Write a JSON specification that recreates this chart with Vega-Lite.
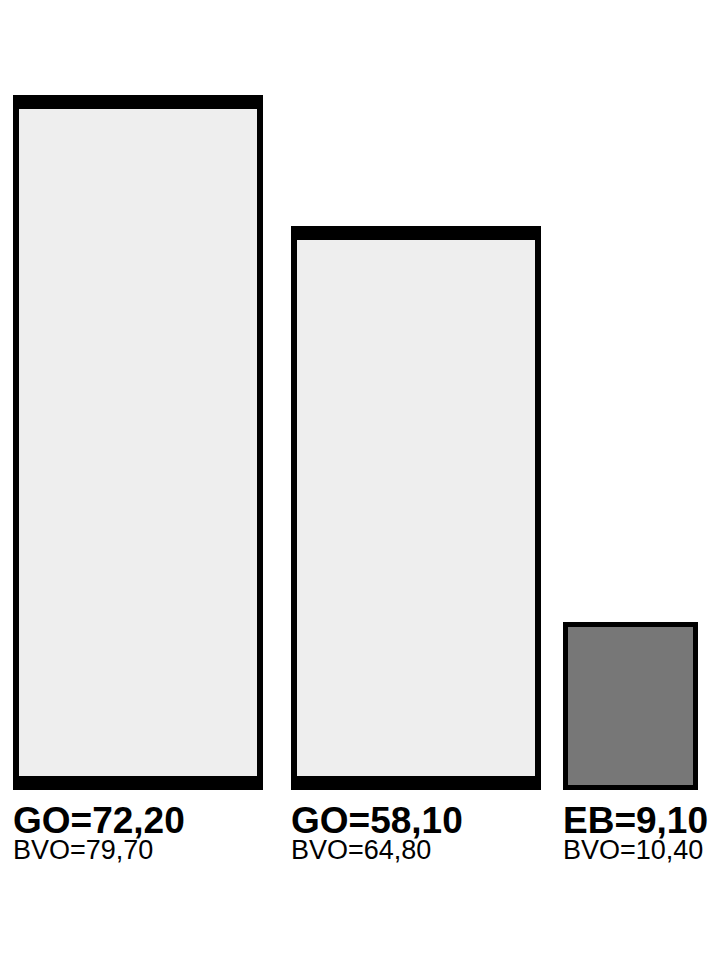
{
  "$schema": "https://vega.github.io/schema/vega-lite/v6.json",
  "autosize": "none",
  "padding": {"left": 0, "top": 0, "right": 0, "bottom": 170},
  "width": 720,
  "height": 790,
  "background": "white",
  "config": {"view": {"stroke": null}},
  "data": {
    "values": [
      {"typ": "GO", "label": "GO=72,20", "bvo": "BVO=79,70", "x0": 0.26, "x1": 5.26, "top": 13.9, "base": 0},
      {"typ": "GO", "label": "GO=58,10", "bvo": "BVO=64,80", "x0": 5.82, "x1": 10.82, "top": 11.28, "base": 0},
      {"typ": "EB", "label": "EB=9,10", "bvo": "BVO=10,40", "x0": 11.26, "x1": 13.96, "top": 3.36, "base": 0}
    ]
  },
  "encoding": {
    "x": {"field": "x0", "type": "quantitative", "scale": {"domain": [0, 14.4], "nice": false, "zero": false}, "axis": null},
    "y": {"field": "top", "type": "quantitative", "scale": {"domain": [0, 15.8], "nice": false, "zero": false}, "axis": null}
  },
  "layer": [
    {
      "mark": {"type": "rect", "color": "#000000", "clip": false},
      "encoding": {
        "x2": {"field": "x1"},
        "y2": {"field": "base"}
      }
    },
    {
      "transform": [{"filter": "datum.typ === 'GO'"}],
      "mark": {"type": "rect", "color": "#eeeeee", "xOffset": 6, "x2Offset": -6, "yOffset": 14, "y2Offset": -14, "clip": false},
      "encoding": {
        "x2": {"field": "x1"},
        "y2": {"field": "base"}
      }
    },
    {
      "transform": [{"filter": "datum.typ === 'EB'"}],
      "mark": {"type": "rect", "color": "#777777", "xOffset": 5, "x2Offset": -5, "yOffset": 5, "y2Offset": -5, "clip": false},
      "encoding": {
        "x2": {"field": "x1"},
        "y2": {"field": "base"}
      }
    },
    {
      "mark": {"type": "text", "align": "left", "baseline": "alphabetic", "font": "Liberation Sans", "fontWeight": "bold", "fontSize": 37, "dy": 43, "color": "#000000", "clip": false},
      "encoding": {
        "y": {"field": "base", "type": "quantitative"},
        "text": {"field": "label"}
      }
    },
    {
      "mark": {"type": "text", "align": "left", "baseline": "alphabetic", "font": "Liberation Sans", "fontSize": 27, "dy": 69, "color": "#000000", "clip": false},
      "encoding": {
        "y": {"field": "base", "type": "quantitative"},
        "text": {"field": "bvo"}
      }
    }
  ]
}
